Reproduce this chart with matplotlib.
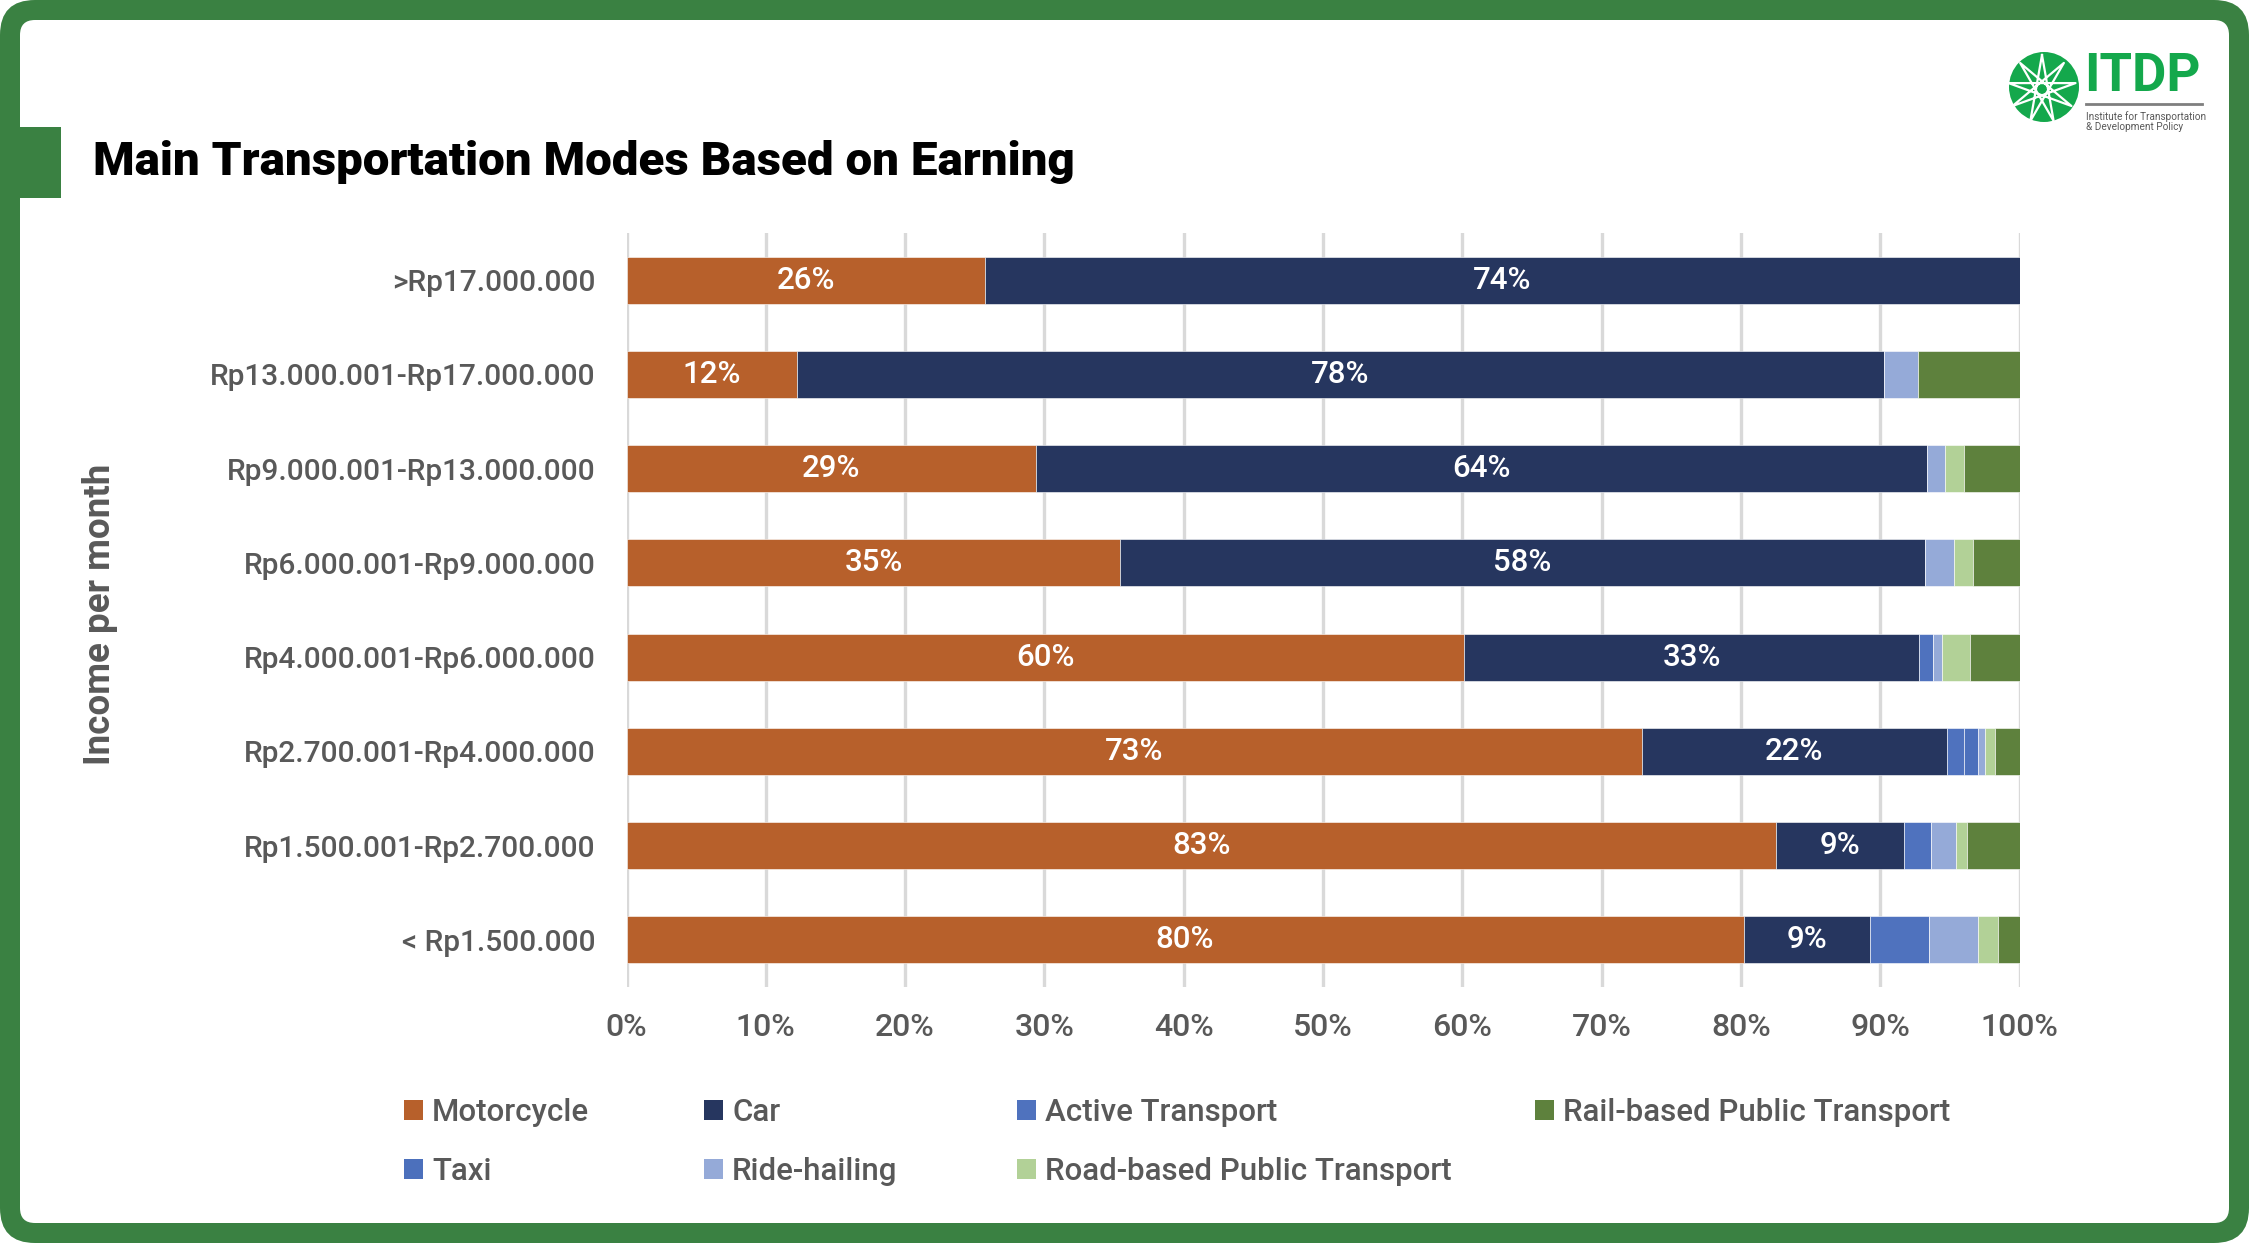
import numpy as np
import matplotlib
matplotlib.use("Agg")
import matplotlib.pyplot as plt
from matplotlib.patches import FancyBboxPatch, Rectangle, Circle, Patch
from matplotlib.lines import Line2D

plt.rcParams['font.family'] = ['Roboto', 'DejaVu Sans']

# income groups, bottom to top
categories = ["< Rp1.500.000", "Rp1.500.001-Rp2.700.000", "Rp2.700.001-Rp4.000.000",
              "Rp4.000.001-Rp6.000.000", "Rp6.000.001-Rp9.000.000", "Rp9.000.001-Rp13.000.000",
              "Rp13.000.001-Rp17.000.000", ">Rp17.000.000"]

# shares in percent, same order as categories
motorcycle = [80.2, 82.55, 72.9, 60.14, 35.46, 29.43, 12.25, 25.7]
car = [9.06, 9.14, 21.87, 32.63, 57.74, 63.91, 78.01, 74.3]
active_transport = [4.22, 1.99, 1.24, 1.0, 0, 0, 0, 0]
taxi = [0, 0, 0.98, 0, 0, 0, 0, 0]
ride_hailing = [3.51, 1.79, 0.5, 0.65, 2.07, 1.29, 2.44, 0]
road_public = [1.48, 0.78, 0.77, 2.0, 1.36, 1.41, 0, 0]
rail_public = [1.53, 3.75, 1.74, 3.58, 3.37, 3.96, 7.30, 0]

series = [("Motorcycle", motorcycle, '#B7602B'),
          ("Car", car, '#26365F'),
          ("Active Transport", active_transport, '#4F72BE'),
          ("Taxi", taxi, '#4C70BC'),
          ("Ride-hailing", ride_hailing, '#95AAD8'),
          ("Road-based Public Transport", road_public, '#B2D197'),
          ("Rail-based Public Transport", rail_public, '#5E813D')]

xticks = [0, 10, 20, 30, 40, 50, 60, 70, 80, 90, 100]

W, H = 2249, 1243
fig = plt.figure(figsize=(W / 100, H / 100), dpi=100)
fig.patch.set_facecolor('white')

frame_green = '#3A8142'
grey = '#595959'
it = fig.dpi_scale_trans  # inches

# green frame with rounded corners, white card inside
fig.patches.append(FancyBboxPatch((0, 0), W / 100, H / 100, boxstyle="round,pad=0,rounding_size=0.35",
                                  transform=it, facecolor=frame_green, edgecolor='none', zorder=0))
fig.patches.append(FancyBboxPatch((0.2, 0.2), W / 100 - 0.4, H / 100 - 0.4,
                                  boxstyle="round,pad=0,rounding_size=0.15",
                                  transform=it, facecolor='white', edgecolor='none', zorder=0.5))
fig.patches.append(Rectangle((0, (H - 198) / 100), 0.61, 0.71, transform=it,
                             facecolor=frame_green, edgecolor='none', zorder=1))

fig.text(93 / W, 1 - 175 / H, "Main Transportation Modes Based on Earning", fontsize=34.2,
         fontweight='heavy', color='black', va='baseline', ha='left')

# logo
logo_green = '#14A84C'
cx, cy, r = 20.44, (H - 87) / 100, 0.35
fig.patches.append(Circle((cx, cy), r, transform=it, facecolor=logo_green, edgecolor='none', zorder=2))
ang = np.deg2rad(90 + np.arange(9) * 40)
px = cx - 0.02 + 0.34 * np.cos(ang)
py = cy - 0.02 + 0.34 * np.sin(ang)
order = [(i * 4) % 9 for i in range(10)]
fig.lines.append(Line2D(px[order], py[order], transform=it, color='white', lw=1.6, zorder=3))
fig.text(2084 / W, 1 - 91 / H, "ITDP", fontsize=38, fontweight='bold', color=logo_green,
         va='baseline', ha='left')
fig.lines.append(Line2D([20.86, 22.02], [(H - 104) / 100] * 2, transform=it, color='#7F7F7F', lw=2, zorder=3))
fig.text(2086 / W, 1 - 120 / H, "Institute for Transportation", fontsize=7.2, color=grey,
         va='baseline', ha='left')
fig.text(2086 / W, 1 - 130 / H, "& Development Policy", fontsize=7.2, color=grey,
         va='baseline', ha='left')

ax = fig.add_axes([626.5 / W, 256 / H, 1393 / W, 754 / H])
ax.set_facecolor('none')
ax.set_zorder(5)

y = np.arange(len(categories))
left = np.zeros(len(categories))
containers = {}
for name, vals, col in series:
    vals = np.array(vals, dtype=float)
    bc = ax.barh(y, vals, left=left, height=0.5, color=col, edgecolor='white', linewidth=0.4,
                 label=name, zorder=3)
    containers[name] = (bc, vals)
    left = left + vals

for name in ("Motorcycle", "Car"):
    bc, vals = containers[name]
    ax.bar_label(bc, labels=[f"{round(v)}%" for v in vals], label_type='center',
                 color='white', fontsize=22.5, fontweight='medium')

ax.set_xlim(0, 100)
ax.set_ylim(-0.5, len(categories) - 0.5)
ax.set_xticks(xticks)
ax.set_xticklabels([f"{t}%" for t in xticks])
ax.set_yticks(y)
ax.set_yticklabels(categories)
ax.tick_params(axis='x', length=0, pad=19, labelsize=23, labelcolor=grey)
ax.tick_params(axis='y', length=0, pad=22, labelsize=21.5, labelcolor=grey)
for lab in ax.get_xticklabels() + ax.get_yticklabels():
    lab.set_fontweight('medium')
ax.grid(axis='x', color='#D9D9D9', linewidth=2.4, zorder=0)
ax.set_axisbelow(True)
for s in ax.spines.values():
    s.set_visible(False)

fig.text(100 / W, 1 - 614 / H, "Income per month", rotation=90, fontsize=26.5, fontweight='bold',
         color=grey, ha='center', va='center')

# legend, one small legend per column
colors = {name: col for name, vals, col in series}
columns = [(["Motorcycle", "Taxi"], 404), (["Car", "Ride-hailing"], 704),
           (["Active Transport", "Road-based Public Transport"], 1017),
           (["Rail-based Public Transport"], 1535)]
for names, x0 in columns:
    handles = [Patch(facecolor=colors[n], edgecolor='none') for n in names]
    leg = fig.legend(handles, names, loc='upper left', bbox_to_anchor=(x0 / W, 1 - 1098 / H),
                     frameon=False, borderpad=0, borderaxespad=0, fontsize=22.5,
                     handlelength=0.6, handleheight=0.6, handletextpad=0.3, labelspacing=0.95,
                     labelcolor=grey)
    for t in leg.get_texts():
        t.set_fontweight('medium')

fig.savefig('out.png', dpi=100, facecolor=fig.get_facecolor())
